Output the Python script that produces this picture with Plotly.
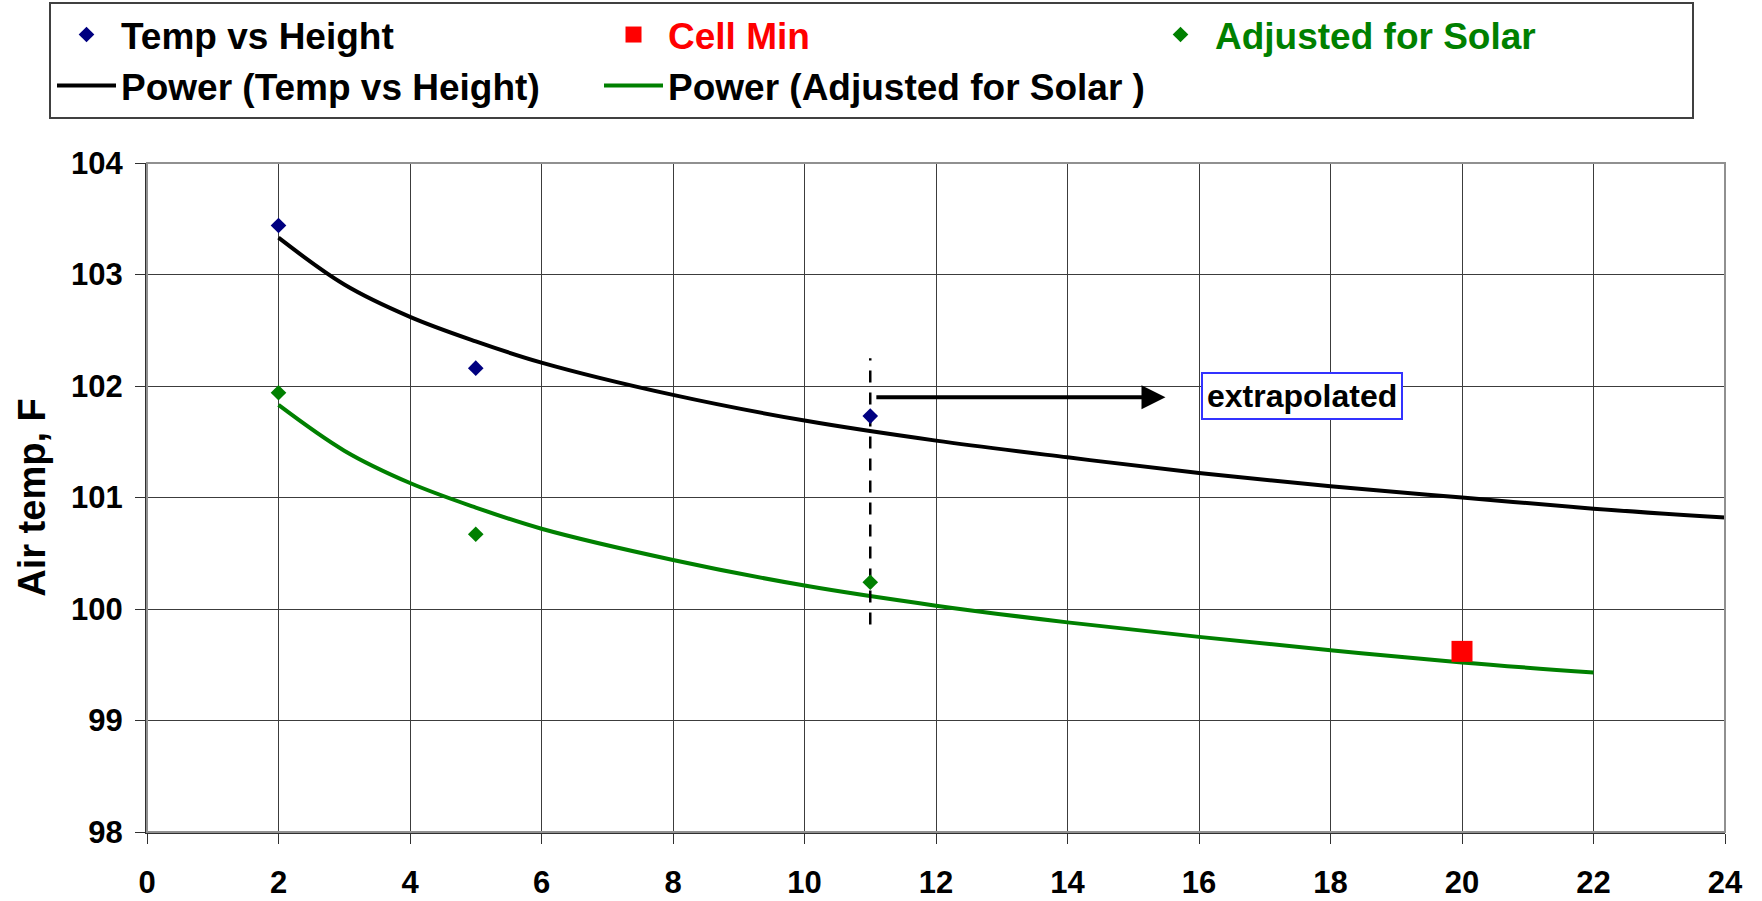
import plotly.graph_objects as go

# measured points
height_pts = [2, 5, 11]
temp_vs_height = [103.44, 102.16, 101.73]
adj_for_solar = [101.94, 100.67, 100.24]
cell_min_x = [20]
cell_min_y = [99.62]

# power trendlines
trend_x = [2, 3, 4, 5, 6, 8, 10, 12, 14, 16, 18, 20, 22, 24]
power_temp = [103.33, 102.91, 102.62, 102.40, 102.21, 101.92, 101.69,
              101.51, 101.36, 101.22, 101.10, 101.00, 100.90, 100.82]
trend_adj_x = [2, 3, 4, 5, 6, 8, 10, 12, 14, 16, 18, 20, 22]
power_adj = [101.83, 101.42, 101.13, 100.91, 100.72, 100.44, 100.21,
             100.03, 99.88, 99.75, 99.63, 99.52, 99.43]

# extrapolation marker
split_x = [11, 11]
split_y = [99.86, 102.25]
arrow_from = (11.07, 101.90)
arrow_to = (15.49, 101.90)
label_pos = (17.57, 101.91)

x_ticks = list(range(0, 25, 2))
y_ticks = list(range(98, 105))

FONT = "Arial, Liberation Sans, sans-serif"
NAVY = "#000080"
GREEN = "#008000"
RED = "#ff0000"

fig = go.Figure()
# lines first so the markers sit on top
fig.add_trace(go.Scatter(x=trend_x, y=power_temp, mode="lines", name="Power (Temp vs Height)",
                         legendrank=4, line=dict(color="black", width=4, shape="spline")))
fig.add_trace(go.Scatter(x=trend_adj_x, y=power_adj, mode="lines", name="Power (Adjusted for Solar )",
                         legendrank=5, line=dict(color=GREEN, width=4, shape="spline")))
fig.add_trace(go.Scatter(x=split_x, y=split_y, mode="lines", showlegend=False, hoverinfo="skip",
                         line=dict(color="black", width=2.5, dash="12px,10px")))
fig.add_trace(go.Scatter(x=height_pts, y=temp_vs_height, mode="markers", name="Temp vs Height",
                         legendrank=1, marker=dict(symbol="diamond", size=12, color=NAVY)))
fig.add_trace(go.Scatter(x=cell_min_x, y=cell_min_y, mode="markers",
                         name="<span style='color:#ff0000'>Cell Min</span>", legendrank=2,
                         marker=dict(symbol="square", size=21, color=RED)))
fig.add_trace(go.Scatter(x=height_pts, y=adj_for_solar, mode="markers",
                         name="<span style='color:#008000'>Adjusted for Solar</span>", legendrank=3,
                         marker=dict(symbol="diamond", size=12, color=GREEN)))

fig.add_annotation(x=arrow_to[0], y=arrow_to[1], ax=arrow_from[0], ay=arrow_from[1],
                   xref="x", yref="y", axref="x", ayref="y", text="", showarrow=True,
                   arrowhead=2, arrowsize=1.2, arrowwidth=4, arrowcolor="black")
fig.add_annotation(x=label_pos[0], y=label_pos[1], xref="x", yref="y", text="<b>extrapolated</b>",
                   showarrow=False, font=dict(family=FONT, size=32, color="black"),
                   bgcolor="white", bordercolor="#3333ff", borderwidth=2, borderpad=4)

fig.add_shape(type="rect", xref="paper", yref="paper", x0=0, x1=1, y0=0, y1=1,
              line=dict(color="#909090", width=2), layer="above")

fig.update_xaxes(range=[0, 24], tickvals=x_ticks, showgrid=True, gridcolor="#3c3c3c", gridwidth=1,
                 showline=True, linecolor="#303030", linewidth=2, ticks="outside", ticklen=10,
                 tickcolor="#303030", zeroline=False, ticklabelstandoff=12,
                 tickfont=dict(family=FONT, size=31, color="black", weight="bold"))
fig.update_yaxes(range=[98, 104], tickvals=y_ticks, showgrid=True, gridcolor="#3c3c3c", gridwidth=1,
                 showline=True, linecolor="#303030", linewidth=2, ticks="outside", ticklen=10,
                 tickcolor="#303030", zeroline=False, ticklabelstandoff=6,
                 tickfont=dict(family=FONT, size=31, color="black", weight="bold"),
                 title=dict(text="<b>Air temp, F</b>", font=dict(family=FONT, size=38, color="black"),
                            standoff=14))

# legend sits above the plot area (paper y > 1) so it may use the full page width
fig.update_layout(
    width=1762, height=901,
    margin=dict(l=147, r=37, t=163, b=69, autoexpand=False),
    paper_bgcolor="white", plot_bgcolor="white",
    showlegend=True,
    legend=dict(orientation="h", x=-0.0621, y=1.2407,
                xanchor="left", yanchor="top", bgcolor="white", bordercolor="#404040",
                borderwidth=2, itemwidth=59, entrywidth=472, entrywidthmode="pixels", indentation=1,
                font=dict(family=FONT, size=37, color="black", weight="bold")),
)

# drop the browser's default page margin so the figure starts at the corner
fig.write_html("out.html", config={"displayModeBar": False},
               post_script="document.body.style.margin='0';")
